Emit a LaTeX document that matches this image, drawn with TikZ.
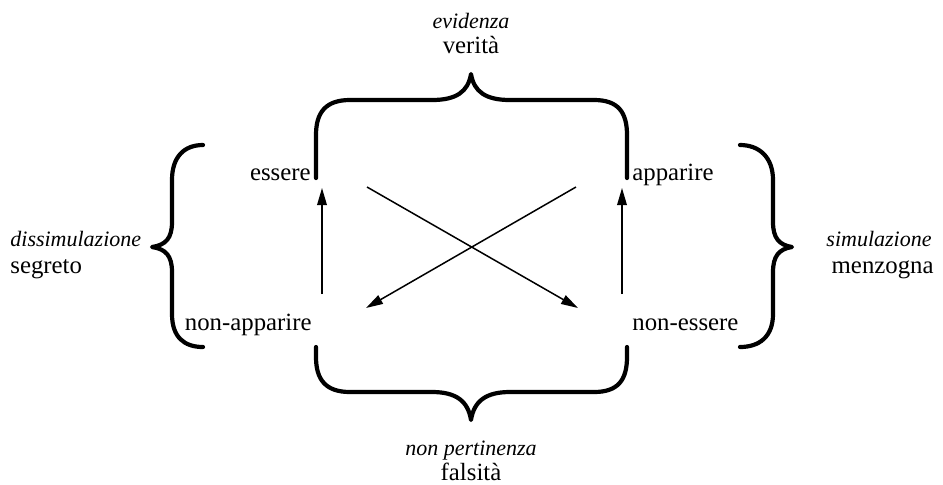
\documentclass[tikz,border=0pt]{standalone}
\usepackage{fontspec}
\setmainfont{Liberation Serif}
\usetikzlibrary{arrows.meta}
\begin{document}
\begin{tikzpicture}[x=0.5pt,y=-0.5pt,
  term/.style={inner sep=0pt,font=\fontsize{12.4}{14}\selectfont},
  ital/.style={inner sep=0pt,font=\fontsize{11}{13}\selectfont\itshape},
  brace/.style={line width=2.1pt,line cap=round,line join=round},
  arr/.style={line width=0.75pt,-{Triangle[length=8.5pt,width=4.8pt]}}]
\useasboundingbox (0,0) rectangle (943,484);
% terms
\node[term,anchor=base east] (essere) at (311,180) {essere};
\node[term,anchor=base west] (apparire) at (632,180) {apparire};
\node[term,anchor=base east] (nonapp) at (312,330) {non-apparire};
\node[term,anchor=base west] (noness) at (632,330) {non-essere};
% labels
\node[ital,anchor=base] (evid) at (471,28) {evidenza};
\node[term,anchor=base] (verita) at (471,53) {verità};
\node[ital,anchor=base] (nonpert) at (471,455) {non pertinenza};
\node[term,anchor=base] (falsita) at (471,480) {falsità};
\node[ital,anchor=base west] (dissim) at (10,246) {dissimulazione};
\node[term,anchor=base west] (segreto) at (10,273) {segreto};
\node[ital,anchor=base east] (simul) at (932,246) {simulazione};
\node[term,anchor=base east] (menz) at (934,273) {menzogna};
% arrow ends
\coordinate (lb) at (322,294);
\coordinate (lt) at (322,188);
\coordinate (rb) at (622,294);
\coordinate (rt) at (622,188);
\coordinate (d1s) at (367,187);
\coordinate (d1e) at (578,308);
\coordinate (d2s) at (576,187);
\coordinate (d2e) at (366,308);
\draw[arr] (lb) -- (lt);
\draw[arr] (rb) -- (rt);
\draw[arr] (d1s) -- (d1e);
\draw[arr] (d2s) -- (d2e);
% top brace
\draw[brace] (316,178) -- (316,135) .. controls (316,112) and (326,100) .. (350,100)
  -- (432,100) .. controls (456,100) and (468,92) .. (471,74)
  .. controls (474,92) and (486,100) .. (510,100)
  -- (594,100) .. controls (618,100) and (627,112) .. (627,135) -- (627,178);
% bottom brace
\draw[brace] (316,347) -- (316,357) .. controls (316,380) and (326,392) .. (350,392)
  -- (432,392) .. controls (456,392) and (468,401) .. (471,420)
  .. controls (474,401) and (486,392) .. (510,392)
  -- (594,392) .. controls (618,392) and (627,380) .. (627,357) -- (627,347);
% left brace
\draw[brace] (203,145) .. controls (184,145) and (172,157) .. (172,180)
  -- (172,222) .. controls (172,238) and (166,245) .. (152,247)
  .. controls (166,249) and (172,256) .. (172,272)
  -- (172,314) .. controls (172,337) and (184,347) .. (203,347);
% right brace
\draw[brace] (740,145) .. controls (759,145) and (773,157) .. (773,180)
  -- (773,222) .. controls (773,238) and (779,245) .. (792,247)
  .. controls (779,249) and (773,256) .. (773,272)
  -- (773,314) .. controls (773,337) and (759,347) .. (740,347);
\end{tikzpicture}
\end{document}
